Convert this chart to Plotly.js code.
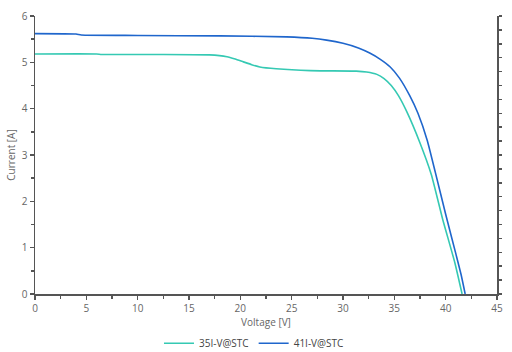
<!DOCTYPE html>
<html>
<head>
<meta charset="utf-8">
<script src="https://cdn.plot.ly/plotly-3.0.1.min.js"></script>
<style>html,body{margin:0;padding:0;background:#fff;}#chart{width:512px;height:352px;}</style>
</head>
<body>
<div id="chart"></div>
<script>
// Series: 35I-V@STC
const v35 = [0,6,6.5,12,17,18.7,19.5,20.3,21.1,21.9,23.5,26.8,31.3,32.3,33.3,34.0,34.7,35.4,36.2,37.5,38.6,39.7,40.9,41.6];
const i35 = [5.18,5.18,5.17,5.17,5.16,5.12,5.07,5.01,4.95,4.90,4.86,4.82,4.81,4.79,4.74,4.65,4.50,4.28,3.94,3.26,2.58,1.62,0.67,0];
// Series: 41I-V@STC
const v41 = [0,4,4.5,10,18,24.5,27,28.4,30,31.5,32.6,33.6,34.6,35.5,36.5,37.3,38.2,39,40,41,41.5,41.9];
const i41 = [5.62,5.61,5.59,5.58,5.57,5.55,5.52,5.48,5.41,5.31,5.20,5.07,4.90,4.66,4.28,3.90,3.32,2.62,1.72,0.86,0.42,0];
const names = ["35I-V@STC", "41I-V@STC"];
const xTitle = "Voltage [V]";
const yTitle = "Current [A]";

const axisColor = "#555";
const fam = "Open Sans, DejaVu Sans, sans-serif";
const tickFont = {family: fam, size: 10, color: "#666"};

const traces = [
  {x: v35, y: i35, name: names[0], mode: "lines", line: {color: "#35c9b3", width: 1.6, shape: "spline", smoothing: 0.5}},
  {x: v41, y: i41, name: names[1], mode: "lines", line: {color: "#1f66cc", width: 1.6, shape: "spline", smoothing: 0.5}}
];

const layout = {
  width: 512, height: 352,
  margin: {l: 35, r: 15, t: 16, b: 58, autoexpand: false},
  paper_bgcolor: "#fff", plot_bgcolor: "#fff",
  font: tickFont,
  showlegend: true,
  legend: {orientation: "h", x: 0.474, xanchor: "center", y: -0.125, yanchor: "top", itemwidth: 30,
           font: {family: fam, size: 10, color: "#444"}},
  xaxis: {
    range: [0, 45], dtick: 5, tick0: 0, automargin: false,
    showgrid: false, zeroline: false,
    showline: true, linecolor: axisColor, linewidth: 1.5,
    ticks: "outside", ticklen: 4, tickwidth: 1.5, tickcolor: axisColor,
    minor: {dtick: 2.5, ticks: "outside", ticklen: 3, tickwidth: 1.5, tickcolor: axisColor},
    tickfont: tickFont,
    title: {text: xTitle, font: {family: fam, size: 10, color: "#666"}, standoff: 0}
  },
  yaxis: {
    range: [0, 6], dtick: 1, tick0: 0, automargin: false,
    showgrid: false, zeroline: false,
    showline: true, linecolor: axisColor, linewidth: 1.5,
    ticks: "outside", ticklen: 4, tickwidth: 1.5, tickcolor: axisColor,
    minor: {dtick: 0.5, ticks: "outside", ticklen: 3, tickwidth: 1.5, tickcolor: axisColor},
    tickfont: tickFont,
    title: {text: yTitle, font: {family: fam, size: 10, color: "#666"}, standoff: 4}
  },
  yaxis2: {
    overlaying: "y", side: "right", range: [0, 20], dtick: 1, automargin: false,
    showgrid: false, zeroline: false, showticklabels: false,
    showline: true, linecolor: axisColor, linewidth: 1.5,
    ticks: "outside", ticklen: 3, tickwidth: 1.5, tickcolor: axisColor
  }
};

// invisible trace to activate the right axis
traces.push({x: [0], y: [0], yaxis: "y2", mode: "markers", marker: {opacity: 0}, showlegend: false, hoverinfo: "skip"});

Plotly.newPlot("chart", traces, layout, {displayModeBar: false, staticPlot: true});
</script>
</body>
</html>
